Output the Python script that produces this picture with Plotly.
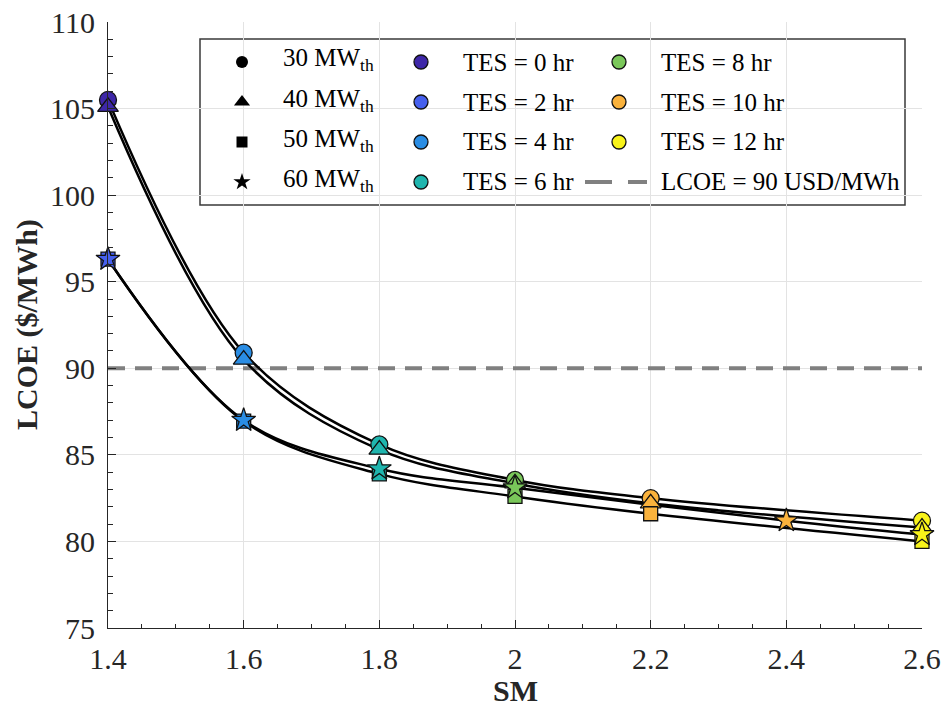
import plotly.graph_objects as go

# LCOE versus solar multiple for four receiver ratings (marker shape)
# and the thermal storage size at each point (marker colour)
sm_30 = [1.4, 1.6, 1.8, 2.0, 2.2, 2.6]
lcoe_30 = [105.5, 90.9, 85.6, 83.55, 82.5, 81.2]
tes_30 = [0, 4, 6, 8, 10, 12]

sm_40 = [1.4, 1.6, 1.8, 2.0, 2.2, 2.6]
lcoe_40 = [105.1, 90.5, 85.3, 83.35, 82.2, 80.8]
tes_40 = [0, 4, 6, 8, 10, 12]

sm_50 = [1.4, 1.6, 1.8, 2.0, 2.2, 2.6]
lcoe_50 = [96.3, 86.95, 83.9, 82.6, 81.6, 80.0]
tes_50 = [2, 4, 6, 8, 10, 12]

sm_60 = [1.4, 1.6, 1.8, 2.0, 2.4, 2.6]
lcoe_60 = [96.3, 87.0, 84.2, 83.1, 81.2, 80.4]
tes_60 = [2, 4, 6, 8, 10, 12]

lcoe_target = 90
sm_range = [1.4, 2.6]

rating_labels = ["30 MW<sub>th</sub>", "40 MW<sub>th</sub>",
                 "50 MW<sub>th</sub>", "60 MW<sub>th</sub>"]
tes_levels = [0, 2, 4, 6, 8, 10, 12]
tes_colors = ["#3e27a8", "#4660ee", "#2a8de4", "#1fb5ae",
              "#7ac75a", "#fab23c", "#f8f31a"]
tes_color = dict(zip(tes_levels, tes_colors))

FONT = "Liberation Serif, Times New Roman, serif"
TXT = "#262626"

series = [
    (sm_30, lcoe_30, tes_30, "circle", 17),
    (sm_40, lcoe_40, tes_40, "triangle-up", 18),
    (sm_50, lcoe_50, tes_50, "square", 14),
    (sm_60, lcoe_60, tes_60, "star", 18),
]

fig = go.Figure()

# reference LCOE level
fig.add_trace(go.Scatter(
    x=sm_range, y=[lcoe_target, lcoe_target], mode="lines",
    line=dict(color="#808080", width=4, dash="17px,10px"),
    showlegend=False, hoverinfo="skip", cliponaxis=False))

# smooth curves first so the markers sit on top
for sm, lc, tes, sym, sz in series:
    fig.add_trace(go.Scatter(
        x=sm, y=lc, mode="lines",
        line=dict(color="black", width=2.5, shape="spline", smoothing=1.0),
        showlegend=False, hoverinfo="skip", cliponaxis=False))

for sm, lc, tes, sym, sz in series:
    fig.add_trace(go.Scatter(
        x=sm, y=lc, mode="markers",
        marker=dict(symbol=sym, size=sz,
                    color=[tes_color[t] for t in tes],
                    line=dict(color="#111111", width=1.3)),
        showlegend=False, cliponaxis=False))

# ---- hand-built three-column legend on an overlay axis in [0, 1] ----
px_l, px_r, px_t, px_b = 108, 922, 22, 628


def fx(px):
    return (px - px_l) / (px_r - px_l)


def fy(py):
    return (px_b - py) / (px_b - px_t)


rows = [62, 102, 142, 182]
col1_m, col1_t = 242, 281
col2_m, col2_t = 421, 461
col3_m, col3_t = 619, 659

fig.add_shape(type="rect", xref="paper", yref="paper",
              x0=fx(200), x1=fx(905), y0=fy(205), y1=fy(39),
              fillcolor="white", line=dict(color="#3a3a3a", width=1.5),
              layer="between")

shapes_leg = [("circle", 12), ("triangle-up", 14), ("square", 11), ("star", 13)]
for (sym, sz), r, lab in zip(shapes_leg, rows, rating_labels):
    fig.add_trace(go.Scatter(
        x=[fx(col1_m)], y=[fy(r)], xaxis="x2", yaxis="y2", mode="markers",
        marker=dict(symbol=sym, size=sz, color="black"),
        showlegend=False, hoverinfo="skip"))
    fig.add_annotation(x=fx(col1_t), y=fy(r - 2), xref="paper", yref="paper",
                       text=lab, showarrow=False, xanchor="left",
                       yanchor="middle",
                       font=dict(family=FONT, size=25, color="black"))

tes_cols = [(col2_m, col2_t, tes_levels[:4]), (col3_m, col3_t, tes_levels[4:])]
for cm, ct, levels in tes_cols:
    for r, t in zip(rows, levels):
        fig.add_trace(go.Scatter(
            x=[fx(cm)], y=[fy(r)], xaxis="x2", yaxis="y2", mode="markers",
            marker=dict(symbol="circle", size=14, color=tes_color[t],
                        line=dict(color="#111111", width=1.3)),
            showlegend=False, hoverinfo="skip"))
        fig.add_annotation(x=fx(ct), y=fy(r), xref="paper", yref="paper",
                           text=f"TES = {t} hr", showarrow=False,
                           xanchor="left", yanchor="middle",
                           font=dict(family=FONT, size=25, color="black"))

fig.add_trace(go.Scatter(
    x=[fx(585), fx(647)], y=[fy(rows[3]), fy(rows[3])], xaxis="x2", yaxis="y2",
    mode="lines", line=dict(color="#808080", width=4, dash="27px,16px"),
    showlegend=False, hoverinfo="skip"))
fig.add_annotation(x=fx(col3_t), y=fy(rows[3]), xref="paper", yref="paper",
                   text=f"LCOE = {lcoe_target} USD/MWh", showarrow=False,
                   xanchor="left", yanchor="middle",
                   font=dict(family=FONT, size=25, color="black"))

# axis titles
fig.add_annotation(x=fx(27), y=0.5, xref="paper", yref="paper",
                   text="<b>LCOE ($/MWh)</b>", textangle=-90, showarrow=False,
                   xanchor="center", yanchor="middle",
                   font=dict(family=FONT, size=30, color=TXT))
fig.add_annotation(x=0.5, y=fy(690), xref="paper", yref="paper",
                   text="<b>SM</b>", showarrow=False,
                   xanchor="center", yanchor="middle",
                   font=dict(family=FONT, size=30, color=TXT))

axis_common = dict(
    showline=True, linecolor=TXT, linewidth=1,
    ticks="inside", ticklen=8, tickcolor=TXT, tickwidth=1,
    showgrid=True, gridcolor="#e3e3e3", gridwidth=1,
    zeroline=False, mirror=False, automargin=False,
    tickfont=dict(family=FONT, size=30, color=TXT),
)

fig.update_layout(
    template="none",
    width=952, height=709,
    margin=dict(l=px_l, r=952 - px_r, t=px_t, b=709 - px_b, pad=0,
                autoexpand=False),
    paper_bgcolor="white", plot_bgcolor="white",
    showlegend=False,
    xaxis=dict(range=sm_range, dtick=0.2, tick0=1.4,
               minor=dict(dtick=0.05, ticks="inside", ticklen=4.5,
                          tickcolor=TXT, showgrid=False),
               ticklabelstandoff=4, **axis_common),
    yaxis=dict(range=[75, 110], dtick=5, tick0=75,
               minor=dict(dtick=1, ticks="inside", ticklen=4.5,
                          tickcolor=TXT, showgrid=False),
               ticklabelstandoff=6, **axis_common),
    xaxis2=dict(overlaying="x", anchor="y2", range=[0, 1], visible=False,
                fixedrange=True, automargin=False),
    yaxis2=dict(overlaying="y", anchor="x2", range=[0, 1], visible=False,
                fixedrange=True, automargin=False),
)

fig.write_html("out.html")
